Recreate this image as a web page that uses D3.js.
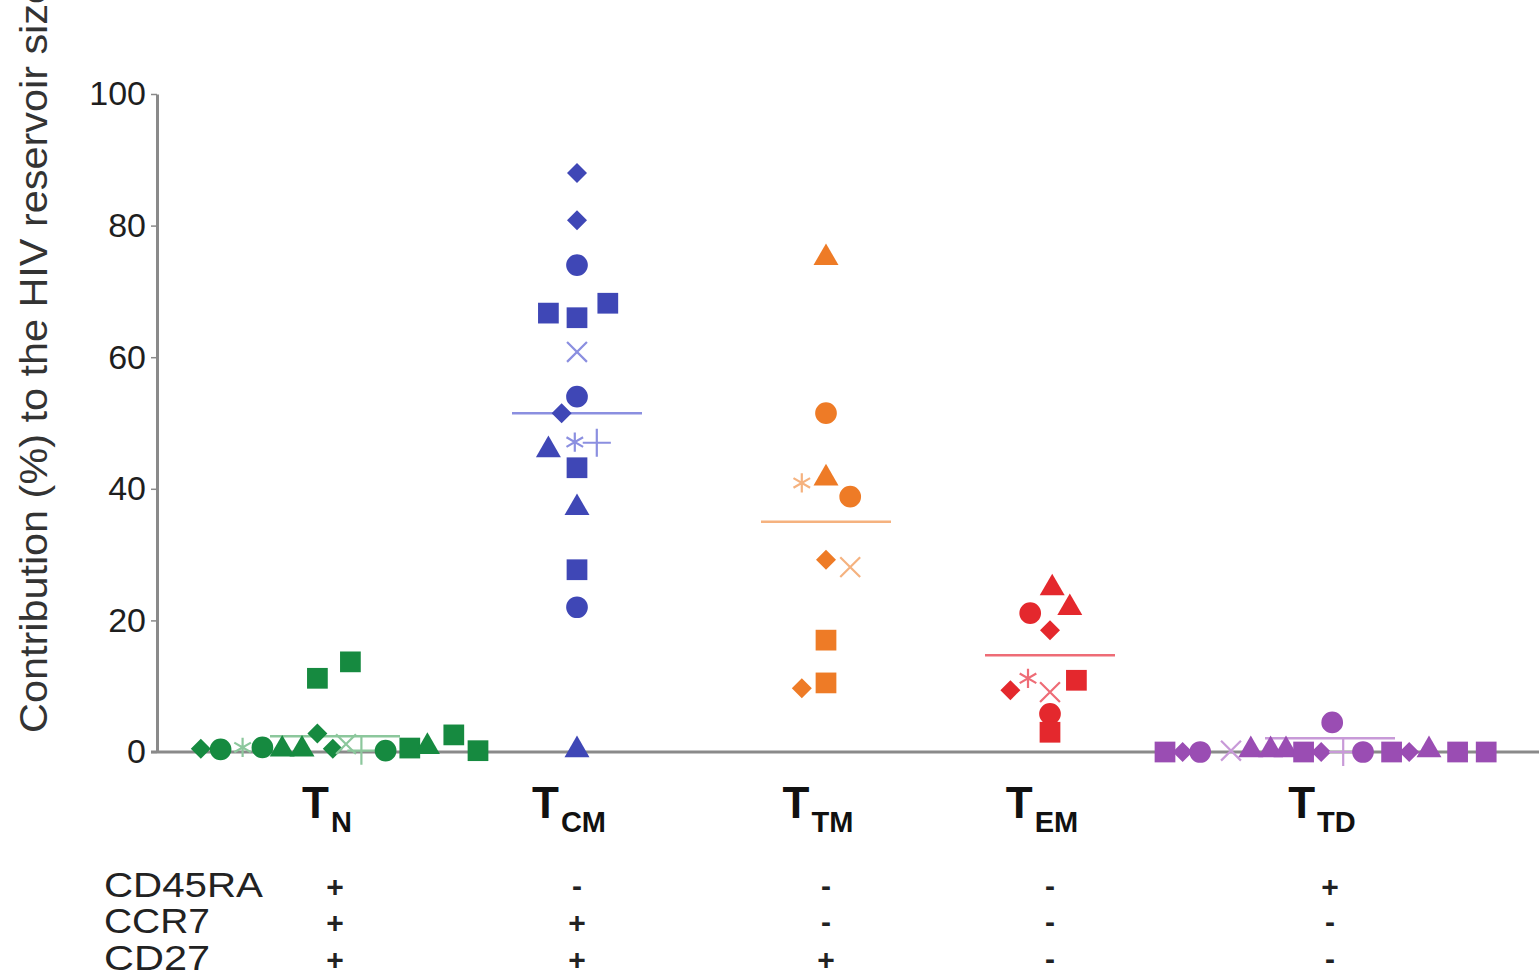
<!DOCTYPE html>
<html>
<head>
<meta charset="utf-8">
<script src="https://cdn.jsdelivr.net/npm/d3@7"></script>
<style>
  html, body { margin: 0; padding: 0; background: #fff; }
  svg { display: block; font-family: Arial, "Liberation Sans", Helvetica, sans-serif; }
</style>
</head>
<body>
<svg id="chart" width="1539" height="979"></svg>
<script>
// Memory T-cell subsets
const categories = ["N", "CM", "TM", "EM", "TD"];
const colors = ["#168a40", "#3f47b6", "#ee7b26", "#e4282d", "#9a4db3"];
const lineColors = ["#8cc79c", "#8b8fe0", "#f5b27f", "#ee6c76", "#c89ad8"];

// Per-subset points: [contribution %, marker, lane]
const tnPoints = [
  [0.5, "diamond", -6.1], [0.4, "circle", -5.2], [0.7, "asterisk", -4.2], [0.7, "circle", -3.3],
  [0.1, "triangle", -2.4], [0.1, "triangle", -1.5], [2.8, "diamond", -0.8], [0.5, "diamond", -0.1],
  [1.2, "times", 0.5], [0.2, "plus", 1.2], [0.2, "circle", 2.3], [0.6, "square", 3.4],
  [0.5, "triangle", 4.2], [2.6, "square", 5.4], [0.2, "square", 6.5],
  [11.2, "square", -0.8], [13.7, "square", 0.7]
];
const tcmPoints = [
  [88.0, "diamond", 0], [80.8, "diamond", 0], [74.0, "circle", 0],
  [66.7, "square", -1.3], [66.0, "square", 0], [68.2, "square", 1.4],
  [60.8, "times", 0], [54.0, "circle", 0], [51.5, "diamond", -0.7],
  [47.1, "asterisk", -0.1], [47.0, "plus", 0.9], [45.6, "triangle", -1.3],
  [43.2, "square", 0], [36.8, "triangle", 0], [27.7, "square", 0],
  [22.0, "circle", 0], [0.0, "triangle", 0]
];
const ttmPoints = [
  [74.8, "triangle", 0], [51.5, "circle", 0], [40.9, "asterisk", -1.1],
  [41.3, "triangle", 0], [38.8, "circle", 1.1], [29.2, "diamond", 0],
  [28.1, "times", 1.1], [17.0, "square", 0], [9.7, "diamond", -1.1], [10.5, "square", 0]
];
const temPoints = [
  [24.6, "triangle", 0.1], [21.1, "circle", -0.9], [21.6, "triangle", 0.9],
  [18.5, "diamond", 0], [11.2, "asterisk", -1.0], [10.9, "square", 1.2],
  [9.4, "diamond", -1.8], [9.1, "times", 0], [5.8, "circle", 0], [3.0, "square", 0]
];
const ttdPoints = [
  [0.0, "square", -7.5], [0.0, "diamond", -6.7], [0.0, "circle", -5.9], [0.2, "times", -4.5],
  [0.0, "triangle", -3.6], [0.0, "triangle", -2.7], [0.0, "triangle", -2.0], [0.0, "square", -1.2],
  [0.0, "diamond", -0.4], [4.5, "circle", 0.1], [0.0, "plus", 0.6], [0.0, "circle", 1.5],
  [0.0, "square", 2.8], [0.0, "diamond", 3.6], [0.0, "triangle", 4.5],
  [0.0, "square", 5.8], [0.0, "square", 7.1]
];
const groups = [tnPoints, tcmPoints, ttmPoints, temPoints, ttdPoints];

// Group means
const means = [2.4, 51.5, 35.0, 14.7, 2.1];

// Y ticks
const yTicks = [0, 20, 40, 60, 80, 100];

// Surface marker phenotype table
const markers = ["CD45RA", "CCR7", "CD27"];
const phenotype = [
  ["+", "-", "-", "-", "+"],
  ["+", "+", "-", "-", "-"],
  ["+", "+", "+", "-", "-"]
];

const svg = d3.select("#chart");

const y = d3.scaleLinear().domain([0, 100]).range([752, 94]);
const x = d3.scaleOrdinal().domain(categories).range([335, 577, 826, 1050, 1330]);
const laneWidth = 22;

// Y axis
const yAxis = svg.append("g")
  .attr("transform", "translate(157,0)")
  .call(d3.axisLeft(y).tickValues(yTicks).tickSize(6).tickSizeOuter(0).tickPadding(5));
yAxis.select(".domain").attr("stroke", "#8a8a8a").attr("stroke-width", 3);
yAxis.selectAll(".tick line").attr("stroke", "#8a8a8a").attr("stroke-width", 1.5);
yAxis.selectAll(".tick text")
  .attr("font-size", 34).attr("fill", "#1e1e1e")
  .attr("font-family", "Arial, 'Liberation Sans', sans-serif");

// Zero baseline across the plot
svg.append("line")
  .attr("x1", 151).attr("x2", 1539)
  .attr("y1", y(0)).attr("y2", y(0))
  .attr("stroke", "#8a8a8a").attr("stroke-width", 3);

// Y axis title (narrow face, running off the top edge)
svg.append("text")
  .attr("transform", `translate(47,733) rotate(-90)`)
  .attr("text-anchor", "start")
  .attr("font-size", 38)
  .attr("font-family", "'Liberation Sans Narrow', 'Arial Narrow', Arial, sans-serif")
  .attr("fill", "#333")
  .attr("textLength", 752)
  .attr("lengthAdjust", "spacingAndGlyphs")
  .text("Contribution (%) to the HIV reservoir size");

// Mean lines
svg.append("g").selectAll("line")
  .data(categories)
  .join("line")
  .attr("x1", d => x(d) - 65)
  .attr("x2", d => x(d) + 65)
  .attr("y1", (d, i) => y(means[i]))
  .attr("y2", (d, i) => y(means[i]))
  .attr("stroke", (d, i) => lineColors[i])
  .attr("stroke-width", 2.5);

// Marker shapes
const filled = {
  square: { type: d3.symbolSquare, size: 430, rotate: 0 },
  circle: { type: d3.symbolCircle, size: 370, rotate: 0 },
  diamond: { type: d3.symbolSquare, size: 200, rotate: 45 },
  triangle: { type: d3.symbolTriangle, size: 270, rotate: 0 }
};
const stroked = {
  times: { type: d3.symbolTimes, size: 260 },
  plus: { type: d3.symbolPlus, size: 260 },
  asterisk: { type: d3.symbolAsterisk, size: 260 }
};

groups.forEach((pts, gi) => {
  const cx = x(categories[gi]);
  const g = svg.append("g");
  g.selectAll("path")
    .data(pts)
    .join("path")
    .attr("transform", d => {
      const rot = filled[d[1]] ? filled[d[1]].rotate : 0;
      const dy = d[1] === "triangle" ? -2 : 0;
      return `translate(${cx + d[2] * laneWidth},${y(d[0]) + dy}) rotate(${rot})`;
    })
    .attr("d", d => {
      const s = filled[d[1]] || stroked[d[1]];
      return d3.symbol().type(s.type).size(s.size)();
    })
    .attr("fill", d => filled[d[1]] ? colors[gi] : "none")
    .attr("stroke", d => filled[d[1]] ? "none" : lineColors[gi])
    .attr("stroke-width", 2.2);
});

// Category labels: T with subscript
const catLabels = svg.append("g").selectAll("text")
  .data(categories)
  .join("text")
  .attr("x", d => x(d) - 8)
  .attr("y", 818)
  .attr("text-anchor", "middle")
  .attr("fill", "#111")
  .attr("font-weight", "bold");
catLabels.append("tspan").attr("font-size", 44).text("T");
catLabels.append("tspan").attr("font-size", 29).attr("dy", 14).attr("dx", 2).text(d => d);

// Phenotype table
const rowY = [897, 933, 970];
svg.append("g").selectAll("text")
  .data(markers)
  .join("text")
  .attr("x", 104)
  .attr("y", (d, i) => rowY[i])
  .attr("font-size", 35)
  .attr("fill", "#222")
  .attr("textLength", d => d.length * 26.5)
  .attr("lengthAdjust", "spacingAndGlyphs")
  .text(d => d);

phenotype.forEach((row, ri) => {
  svg.append("g").selectAll("text")
    .data(row)
    .join("text")
    .attr("x", (d, i) => x(categories[i]))
    .attr("y", d => rowY[ri] - (d === "-" ? 1 : 0))
    .attr("text-anchor", "middle")
    .attr("font-size", 30)
    .attr("font-weight", "bold")
    .attr("fill", "#222")
    .text(d => d);
});
</script>
</body>
</html>
